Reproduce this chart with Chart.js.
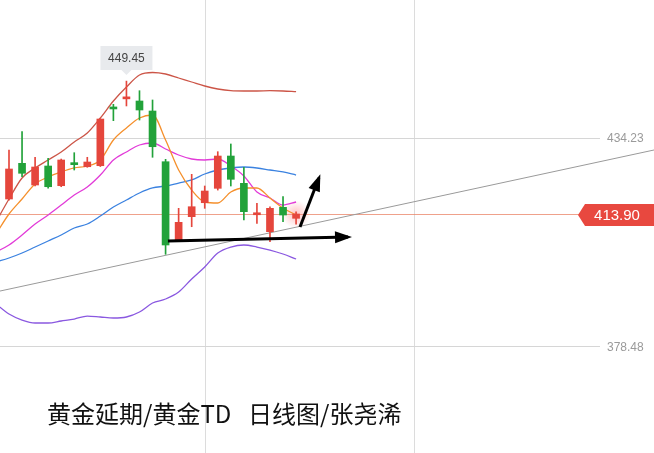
<!DOCTYPE html>
<html><head><meta charset="utf-8">
<script src="https://cdn.jsdelivr.net/npm/chart.js@4.4.0/dist/chart.umd.min.js"></script>
<style>
html,body{margin:0;padding:0;background:#fff;}
#wrap{position:relative;width:654px;height:453px;overflow:hidden;background:#fff;}
canvas{position:absolute;left:0;top:0;}
#title{position:absolute;left:47px;top:398px;font-family:"Noto Sans CJK SC","Noto Sans",sans-serif;font-size:24px;color:#111;white-space:pre;line-height:30px;word-spacing:3px;}
</style></head>
<body><div id="wrap"><canvas id="c" width="654" height="453"></canvas><div id="title">黄金延期/黄金TD  日线图/张尧浠</div></div>
<script>
// ---- data ----
const candleIdx = [0,1,2,3,4,5,6,7,8,9,10,11,12,13,14,15,16,17,18,19,20,21,22];
const opens  = [417.91,427.46,421.66,426.74,421.47,427.50,426.55,426.82,442.40,444.70,444.13,441.45,427.89,406.76,413.18,416.92,420.77,429.41,422.11,413.70,409.17,415.69,412.75];
const highs  = [431.02,435.92,429.07,428.80,428.60,430.30,429.07,439.40,443.24,449.45,446.88,444.40,428.53,415.42,424.52,421.39,430.57,432.63,426.39,416.76,415.85,418.53,414.50];
const lows   = [417.60,423.88,421.40,420.80,421.20,425.67,426.40,426.60,438.86,442.80,439.04,429.07,403.12,406.60,410.50,415.42,420.30,421.39,412.30,411.41,406.49,411.84,411.20];
const closes = [425.94,424.79,426.47,421.20,428.35,427.10,427.81,439.31,442.00,445.10,441.72,431.90,405.61,411.68,415.85,420.05,429.41,423.18,414.52,414.00,415.42,413.63,413.90];

const lineIdx   = [-1,0,1,2,3,4,5,6,7,8,9,10,11,12,13,14,15,16,17,18,19,20,21,22];
const bollUpper = [411.76,417.91,423.53,426.21,428.35,430.49,433.16,435.57,439.58,444.13,447.87,451.08,451.75,451.35,450.28,449.21,448.14,447.34,446.88,446.80,446.80,446.88,446.80,446.62];
const ma5       = [408.55,413.90,417.91,421.93,423.80,425.14,426.21,426.74,428.35,433.70,436.91,439.58,440.38,433.70,425.67,420.32,417.11,416.84,419.79,420.86,420.86,418.18,415.51,413.63];
const ma10      = [403.73,405.61,408.28,411.22,413.63,416.31,418.98,421.12,424.33,428.35,430.49,432.36,432.89,431.29,429.68,428.61,428.35,428.61,426.74,424.07,419.79,418.18,416.31,417.11];
const bollMid   = [401.06,402.13,403.47,405.07,406.68,408.28,410.15,411.22,413.36,415.77,417.65,419.52,420.86,421.39,422.19,423.00,424.60,425.67,426.21,426.47,426.21,425.67,425.14,424.33];
const bollLower = [389.82,387.15,385.54,384.74,384.74,385.28,385.81,386.61,386.35,386.08,386.35,387.68,390.09,391.16,393.03,396.51,399.72,403.47,405.07,405.61,405.07,404.27,403.20,401.86];

const levelPrices = [434.23, 378.48];
const lastPrice = 413.90;
const peakIdx = 9;
const peakValue = 449.45;
const gridX = [15, 31];
const trendX = [-1, 50];
const trendY = [393.06, 431.45];
const arrowFlatX = [12.18, 25.98];
const arrowFlatY = [406.68, 407.75];
const arrowUpX = [22.3, 23.75];
const arrowUpY = [410.42, 423.53];

// ---- styling ----
const RED = '#e5463c', GREEN = '#22a23a';
const candleColors = candleIdx.map(i => closes[i] >= opens[i] ? RED : GREEN);
const pts = (xs, ys) => xs.map((x, i) => ({x, y: ys[i]}));

function lineDs(data, color, order, width) {
  return {type:'line', data: pts(lineIdx, data), borderColor: color, borderWidth: width || 1.3,
    pointRadius: 0, cubicInterpolationMode: 'monotone', fill: false, order: order};
}

const arrowPlugin = {
  id: 'deco',
  beforeDatasetsDraw(chart) {
    const {ctx, chartArea, scales:{x, y}} = chart;
    ctx.save();
    ctx.strokeStyle = '#dcdcdc'; ctx.lineWidth = 1;
    gridX.forEach(g => { const px = Math.round(x.getPixelForValue(g)) + 0.5;
      ctx.beginPath(); ctx.moveTo(px, chartArea.top); ctx.lineTo(px, chartArea.bottom); ctx.stroke(); });
    ctx.strokeStyle = '#d6d6d6';
    levelPrices.forEach(p => { const py = Math.round(y.getPixelForValue(p)) + 0.5;
      ctx.beginPath(); ctx.moveTo(chartArea.left, py); ctx.lineTo(chartArea.right - 54, py); ctx.stroke(); });
    const ly = Math.round(y.getPixelForValue(lastPrice)) + 0.5;
    ctx.strokeStyle = 'rgba(234,130,100,0.75)';
    ctx.beginPath(); ctx.moveTo(chartArea.left, ly); ctx.lineTo(chartArea.right - 70, ly); ctx.stroke();
    const gx = x.getPixelForValue(candleIdx[candleIdx.length-1]);
    const g = ctx.createRadialGradient(gx, ly, 0, gx, ly, 14);
    g.addColorStop(0, 'rgba(255,120,120,0.45)'); g.addColorStop(1, 'rgba(255,120,120,0)');
    ctx.fillStyle = g; ctx.beginPath(); ctx.arc(gx, ly, 14, 0, Math.PI*2); ctx.fill();
    ctx.restore();
  },
  afterDatasetsDraw(chart) {
    const {ctx, chartArea, scales:{x, y}} = chart;
    ctx.save();
    [[arrowFlatX, arrowFlatY],[arrowUpX, arrowUpY]].forEach(([xs, ys]) => {
      const x0 = x.getPixelForValue(xs[0]), y0 = y.getPixelForValue(ys[0]);
      const x1 = x.getPixelForValue(xs[1]), y1 = y.getPixelForValue(ys[1]);
      const a = Math.atan2(y1 - y0, x1 - x0);
      const L = 13, W = 6;
      ctx.fillStyle = '#000';
      ctx.beginPath();
      ctx.moveTo(x1 + Math.cos(a)*4, y1 + Math.sin(a)*4);
      ctx.lineTo(x1 - Math.cos(a)*L + Math.sin(a)*W, y1 - Math.sin(a)*L - Math.cos(a)*W);
      ctx.lineTo(x1 - Math.cos(a)*L - Math.sin(a)*W, y1 - Math.sin(a)*L + Math.cos(a)*W);
      ctx.closePath(); ctx.fill();
    });
    const px = x.getPixelForValue(peakIdx), py = y.getPixelForValue(peakValue);
    const bw = 52, bh = 24, by = py - 35;
    ctx.fillStyle = '#e8eaed';
    ctx.beginPath(); ctx.rect(px - bw/2, by, bw, bh); ctx.fill();
    ctx.beginPath(); ctx.moveTo(px - 5, by + bh); ctx.lineTo(px + 5, by + bh); ctx.lineTo(px, by + bh + 5); ctx.closePath(); ctx.fill();
    ctx.fillStyle = '#444'; ctx.font = '12px "Liberation Sans", Arial, sans-serif';
    ctx.textAlign = 'center'; ctx.textBaseline = 'middle';
    ctx.fillText(peakValue.toFixed(2), px, by + bh/2 + 0.5);
    ctx.fillStyle = '#9a9a9a'; ctx.textAlign = 'left';
    levelPrices.forEach(p => ctx.fillText(p.toFixed(2), chartArea.right - 47, y.getPixelForValue(p) + 1));
    const ly = y.getPixelForValue(lastPrice);
    ctx.fillStyle = '#e8483f';
    ctx.beginPath();
    ctx.moveTo(chartArea.right - 76, ly + 1);
    ctx.lineTo(chartArea.right - 69, ly - 10);
    ctx.lineTo(chartArea.right, ly - 10);
    ctx.lineTo(chartArea.right, ly + 12);
    ctx.lineTo(chartArea.right - 69, ly + 12);
    ctx.closePath(); ctx.fill();
    ctx.fillStyle = '#fff'; ctx.font = '15px "Liberation Sans", Arial, sans-serif';
    ctx.textAlign = 'center';
    ctx.fillText(lastPrice.toFixed(2), chartArea.right - 37, ly + 1.5);
    ctx.restore();
  }
};

new Chart(document.getElementById('c'), {
  type: 'bar',
  data: {
    datasets: [
      lineDs(bollUpper, '#cc5547', 5),
      lineDs(ma5, '#f5902c', 5),
      lineDs(ma10, '#e23bd8', 5),
      lineDs(bollMid, '#3b82e0', 5),
      lineDs(bollLower, '#8a58e0', 5),
      {type:'line', data: pts(trendX, trendY), borderColor:'#9a9a9a', borderWidth:1, pointRadius:0, order:4},
      {type:'bar', data: candleIdx.map(i => ({x:i, y:[lows[i], highs[i]]})), backgroundColor: candleColors,
        barThickness: 1, grouped:false, order:3},
      {type:'bar', data: candleIdx.map(i => ({x:i, y:[opens[i], closes[i]]})), backgroundColor: candleColors,
        barThickness: 7, minBarLength: 2, grouped:false, order:2},
      {type:'line', data: pts(arrowFlatX, arrowFlatY), borderColor:'#000', borderWidth:3, pointRadius:0, order:1},
      {type:'line', data: pts(arrowUpX, arrowUpY), borderColor:'#000', borderWidth:3, pointRadius:0, order:1}
    ]
  },
  options: {
    responsive: false, animation: false, devicePixelRatio: 1,
    layout: {padding: 0},
    plugins: {legend:{display:false}, tooltip:{enabled:false}},
    scales: {
      x: {type:'linear', display:false, offset:false, min:-0.6897, max:49.43},
      y: {type:'linear', display:false, min:349.97, max:471.145, beginAtZero:false}
    }
  },
  plugins: [arrowPlugin]
});
</script>
</body></html>
